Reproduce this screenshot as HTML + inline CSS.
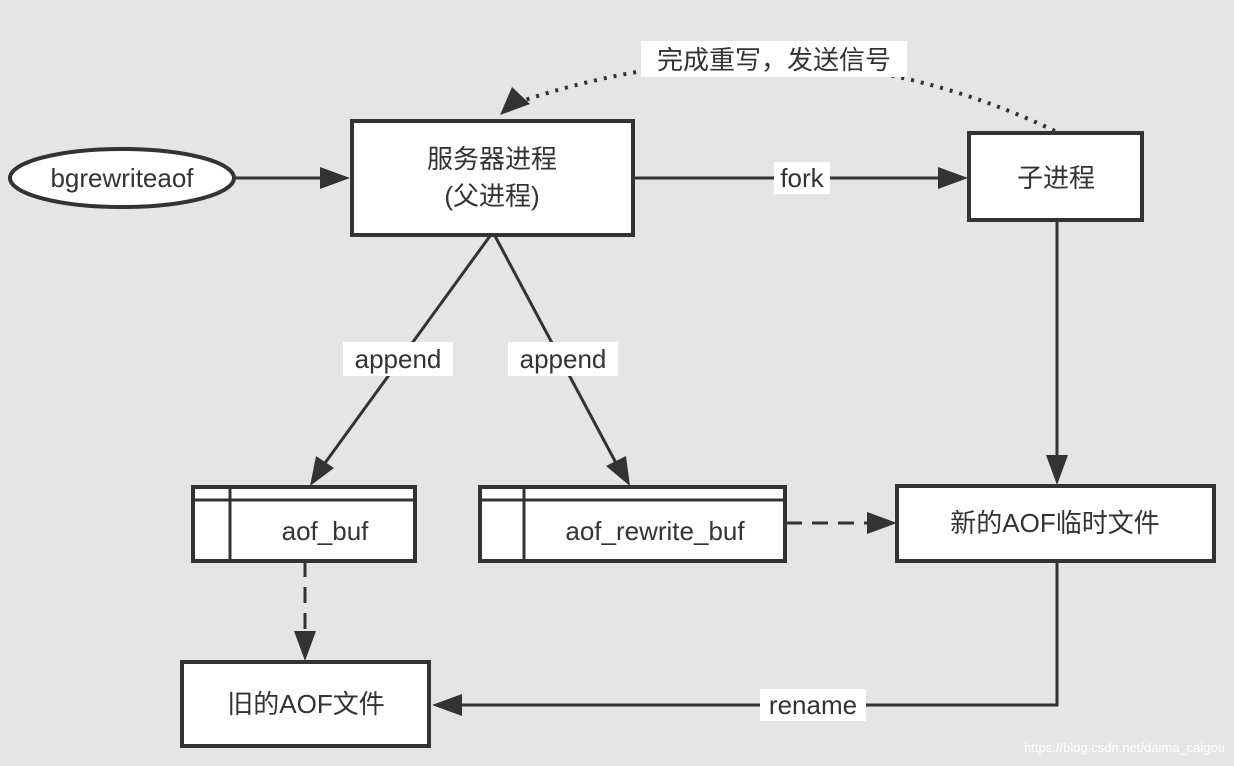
<!DOCTYPE html>
<html><head><meta charset="utf-8"><style>
html,body{margin:0;padding:0;background:#e5e5e5;}
svg{display:block;}
text{font-family:"Liberation Sans","Noto Sans CJK SC",sans-serif;fill:#333;font-size:26px;}
</style></head><body>
<svg width="1234" height="766" viewBox="0 0 1234 766" xmlns="http://www.w3.org/2000/svg">
<defs>
<marker id="a" markerWidth="10" markerHeight="10" refX="9" refY="5" orient="auto" markerUnits="userSpaceOnUse" viewBox="0 0 10 10">
</marker>
</defs>
<rect width="1234" height="766" fill="#e5e5e5"/>
<g stroke="#333" stroke-width="4" fill="#fff">
<ellipse cx="122" cy="178" rx="112" ry="29"/>
<rect x="352" y="121" width="281" height="114"/>
<rect x="969" y="133" width="173" height="87"/>
<rect x="897" y="486" width="317" height="75"/>
<rect x="193" y="487" width="222" height="74"/>
<rect x="480" y="487" width="305" height="74"/>
<rect x="182" y="662" width="247" height="84"/>
</g>
<g stroke="#333" stroke-width="3" fill="none">
<line x1="193" y1="500" x2="415" y2="500"/>
<line x1="230" y1="487" x2="230" y2="561"/>
<line x1="480" y1="500" x2="785" y2="500"/>
<line x1="524" y1="487" x2="524" y2="561"/>
<line x1="236" y1="178" x2="325" y2="178"/>
<line x1="633" y1="178" x2="942" y2="178"/>
<line x1="1057" y1="220" x2="1057" y2="458"/>
<line x1="490" y1="236" x2="325" y2="463"/>
<line x1="495" y1="236" x2="616" y2="463"/>
<line x1="786" y1="523" x2="870" y2="523" stroke-dasharray="16,10"/>
<line x1="305" y1="561" x2="305" y2="635" stroke-dasharray="16,10"/>
<polyline points="1057,561 1057,705 458,705"/>
<path d="M1055,131 Q800,10 525,100" stroke-dasharray="3,7" stroke-width="4"/>
</g>
<g fill="#333">
<polygon points="350,178 320,167 320,189"/>
<polygon points="968,178 938,167 938,189"/>
<polygon points="1057,485 1046,455 1068,455"/>
<polygon points="310,486 316,456 334,468"/>
<polygon points="630,486 606,466 626,456"/>
<polygon points="897,523 867,512 867,534"/>
<polygon points="305,661 294,631 316,631"/>
<polygon points="432,705 462,694 462,716"/>
<polygon points="500,115 512,87 530,104"/>
</g>
<g fill="#fff">
<rect x="641" y="41" width="266" height="36"/>
<rect x="774" y="162" width="56" height="32"/>
<rect x="343" y="342" width="110" height="34"/>
<rect x="508" y="342" width="110" height="34"/>
<rect x="760" y="689" width="106" height="32"/>
</g>
<text x="122" y="187" text-anchor="middle">bgrewriteaof</text>
<text x="492" y="168" text-anchor="middle">服务器进程</text>
<text x="492" y="205" text-anchor="middle">(父进程)</text>
<text x="1056" y="187" text-anchor="middle">子进程</text>
<text x="802" y="187" text-anchor="middle">fork</text>
<text x="774" y="69" text-anchor="middle">完成重写，发送信号</text>
<text x="398" y="368" text-anchor="middle">append</text>
<text x="563" y="368" text-anchor="middle">append</text>
<text x="325" y="540" text-anchor="middle">aof_buf</text>
<text x="655" y="540" text-anchor="middle">aof_rewrite_buf</text>
<text x="1055" y="532" text-anchor="middle">新的AOF临时文件</text>
<text x="306" y="713" text-anchor="middle">旧的AOF文件</text>
<text x="813" y="714" text-anchor="middle">rename</text>
<text x="1225" y="752" text-anchor="end" style="font-size:13px;fill:#fff">https://blog.csdn.net/daima_caigou</text>
</svg>
</body></html>
